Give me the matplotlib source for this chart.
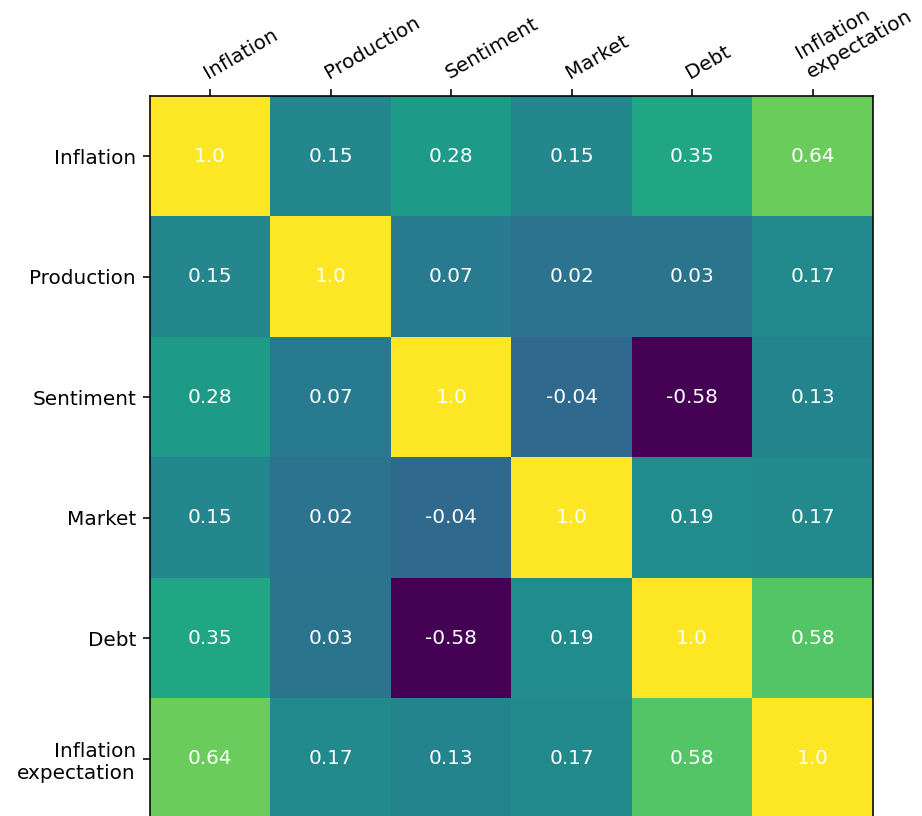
import matplotlib.pyplot as plt
import numpy as np

labels = ["Inflation", "Production", "Sentiment", "Market", "Debt",
          "Inflation\nexpectation"]

corr = np.array([
    [1.00, 0.15, 0.28, 0.15, 0.35, 0.64],
    [0.15, 1.00, 0.07, 0.02, 0.03, 0.17],
    [0.28, 0.07, 1.00, -0.04, -0.58, 0.13],
    [0.15, 0.02, -0.04, 1.00, 0.19, 0.17],
    [0.35, 0.03, -0.58, 0.19, 1.00, 0.58],
    [0.64, 0.17, 0.13, 0.17, 0.58, 1.00],
])

dpi = 144
fig = plt.figure(figsize=(922 / dpi, 816 / dpi), dpi=dpi)
ax = fig.add_axes([150 / 922, 1 - 819 / 816, 723 / 922, 723 / 816])

ax.imshow(corr, cmap="viridis", aspect="auto")

ax.xaxis.tick_top()
ax.set_xticks(np.arange(len(labels)))
ax.set_yticks(np.arange(len(labels)))
ax.set_xticklabels(labels, fontsize=10)
ax.set_yticklabels(labels, fontsize=10)
plt.setp(ax.get_xticklabels(), rotation=30, ha="left", rotation_mode="anchor")

for i in range(len(labels)):
    for j in range(len(labels)):
        ax.text(j, i, f"{corr[i, j]:.2g}" if abs(corr[i, j]) != 1 else "1.0",
                ha="center", va="center", color="white", fontsize=10)

fig.savefig("out.png", dpi=dpi)
